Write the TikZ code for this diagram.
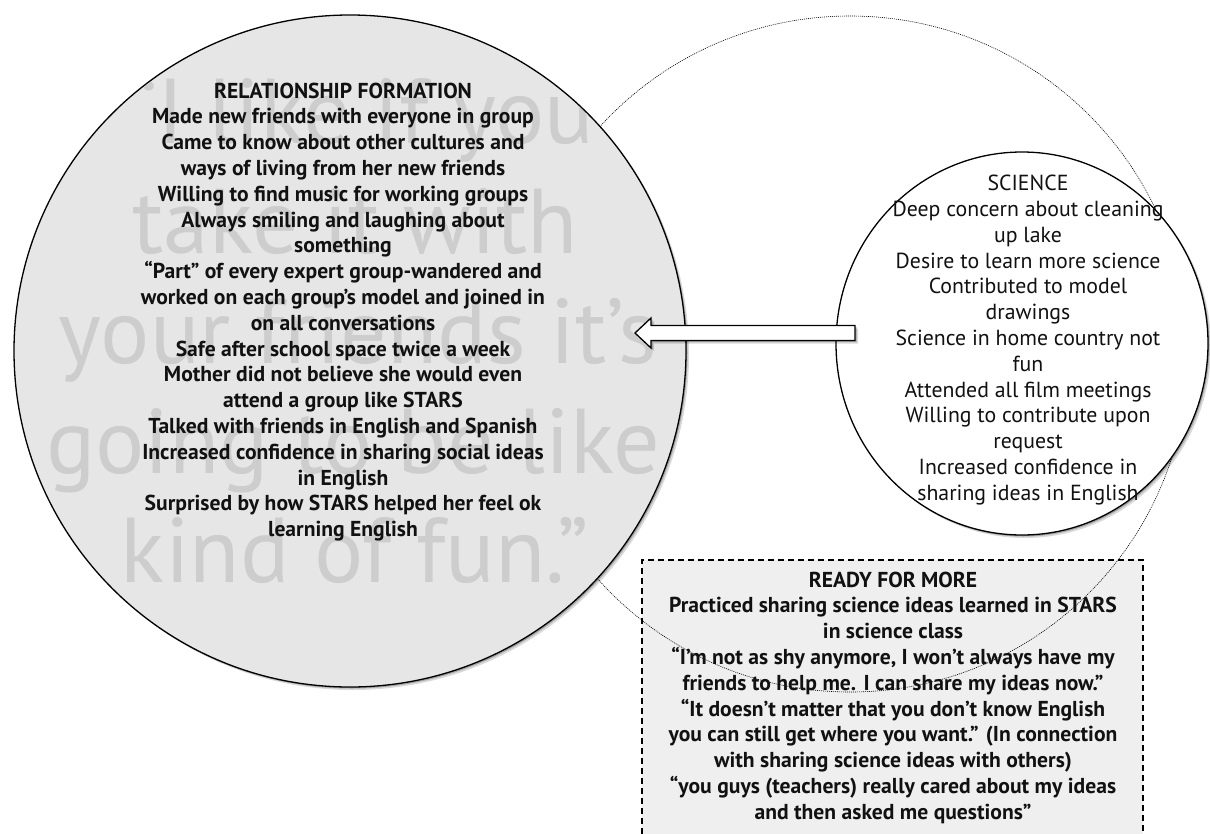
\documentclass[tikz,border=0pt]{standalone}
\usepackage{fontspec}
\setmainfont{PT Sans}
\newfontfamily\wmfont{PT Sans}
\usetikzlibrary{shapes.geometric,shadows,calc}
\definecolor{circfill}{HTML}{E6E6E6}
\definecolor{boxfill}{HTML}{EFEFEF}
\definecolor{wmgray}{HTML}{CDCDCD}
\definecolor{ink}{HTML}{111111}
\begin{document}
\begin{tikzpicture}[x=1pt,y=-1pt,
  softshadow/.style={drop shadow={shadow xshift=3pt,shadow yshift=-3pt,opacity=.15,fill=black},
                     drop shadow={shadow xshift=1.5pt,shadow yshift=-1.5pt,opacity=.25,fill=black}},
  relcirc/.style={circle,draw=black,line width=1.3pt,fill=circfill,minimum size=672pt,inner sep=0pt,softshadow},
  scicirc/.style={ellipse,draw=black,line width=1.3pt,fill=white,minimum width=372pt,minimum height=383pt,inner sep=0pt,softshadow},
  outercirc/.style={circle,draw=black,line width=0.6pt,dash pattern=on 1pt off 1pt,minimum size=676pt,inner sep=0pt},
  boxst/.style={rectangle,draw=black,line width=1.2pt,dash pattern=on 6pt off 4pt,fill=boxfill,minimum width=501pt,minimum height=300pt,inner sep=0pt},
  blockarrow/.style={draw=black,line width=1.3pt,fill=white,line join=miter,softshadow},
  wm/.style={font=\wmfont\fontsize{92}{110}\selectfont,text=wmgray,anchor=base,inner sep=0pt},
  boldline/.style={font=\bfseries\fontsize{21.6}{26}\selectfont,text=ink,anchor=base,inner sep=0pt},
  regline/.style={font=\fontsize{21.8}{26}\selectfont,text=ink,anchor=base,inner sep=0pt}]
\path[use as bounding box] (0,0) rectangle (1210,833);
\clip (0,0) rectangle (1210,833);

% READY FOR MORE box
\node[boxst] (box) at (892.5,710) {};
% dotted outer circle
\node[outercirc] (outer) at (850,354) {};
% relationship circle
\node[relcirc] (rel) at (350,351) {};
\begin{scope}
  \clip (rel.center) circle (335pt);
  \node[wm] (wm1) at (360,143) {“I like if you};
  \node[wm] (wm2) at (355,253) {take it with};
  \node[wm] (wm3) at (358,363) {your friends it’s};
  \node[wm] (wm4) at (353,473) {going to be like};
  \node[wm] (wm5) at (355,582) {kind of fun.”};
\end{scope}
\foreach \t [count=\i] in {{RELATIONSHIP FORMATION},
  {Made new friends with everyone in group},
  {Came to know about other cultures and},
  {ways of living from her new friends},
  {Willing to find music for working groups},
  {Always smiling and laughing about},
  {something},
  {“Part” of every expert group-wandered and},
  {worked on each group’s model and joined in},
  {on all conversations},
  {Safe after school space twice a week},
  {Mother did not believe she would even},
  {attend a group like STARS},
  {Talked with friends in English and Spanish},
  {Increased confidence in sharing social ideas},
  {in English},
  {Surprised by how STARS helped her feel ok},
  {learning English}}
  \node[boldline] (rf\i) at (343,{98+25.8*(\i-1)}) {\t};

% science circle
\node[scicirc] (sci) at (1022,343.5) {};
\foreach \t [count=\i] in {{SCIENCE},
  {Deep concern about cleaning},
  {up lake},
  {Desire to learn more science},
  {Contributed to model},
  {drawings},
  {Science in home country not},
  {fun},
  {Attended all film meetings},
  {Willing to contribute upon},
  {request},
  {Increased confidence in},
  {sharing ideas in English}}
  \node[regline] (sc\i) at (1028,{190.7+25.8*(\i-1)}) {\t};

% block arrow from SCIENCE to RELATIONSHIP FORMATION
\coordinate (atip) at (635,333);
\coordinate (atail) at (855,333);
\draw[blockarrow] (atip) -- ($(atip)+(16,-15)$) -- ($(atip)+(16,-7.5)$) -- ($(atail)+(0,-7.5)$)
  -- ($(atail)+(0,7.5)$) -- ($(atip)+(16,7.5)$) -- ($(atip)+(16,15)$) -- cycle;

% box text
\foreach \t [count=\i] in {{READY FOR MORE},
  {Practiced sharing science ideas learned in STARS},
  {in science class},
  {“I’m not as shy anymore, I won’t always have my},
  {friends to help me. I can share my ideas now.”},
  {“It doesn’t matter that you don’t know English},
  {you can still get where you want.” (In connection},
  {with sharing science ideas with others)},
  {“you guys (teachers) really cared about my ideas},
  {and then asked me questions”}}
  \node[boldline] (rm\i) at (893,{587+25.8*(\i-1)}) {\t};
\end{tikzpicture}
\end{document}
